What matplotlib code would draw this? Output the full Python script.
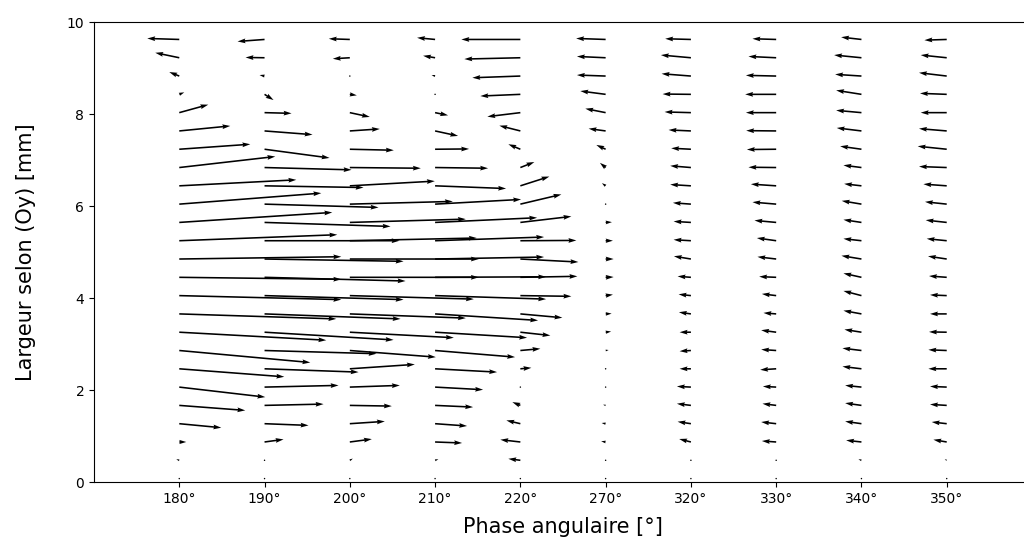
import numpy as np
import matplotlib
matplotlib.use("Agg")
import matplotlib.pyplot as plt

# Phase columns (x axis labels)
phases = ["180°", "190°", "200°", "210°", "220°", "270°", "320°", "330°", "340°", "350°"]

# Vertical positions of the measurement rows [mm]
y_rows = np.linspace(0.075, 9.63, 25)

# Vector components per phase, bottom row -> top row
u180 = [0, -0.3, 0.7, 4.2, 6.6, 8.6, 10.5, 13.1, 14.7, 15.7, 16.2, 16.2, 16.2, 15.8, 15.3, 14.2, 11.7, 9.6, 7.1, 5.1, 2.9, 0.5, -1.0, -2.4, -3.2]
v180 = [0, 0.1, 0, -0.4, -0.5, -1.0, -0.8, -1.2, -0.8, -0.5, -0.4, -0.2, 0.23, 0.6, 1.0, 1.1, 0.6, 1.1, 0.5, 0.5, 0.8, 0.2, 0.4, 0.5, 0.1]

u190 = [0, 0, 1.9, 4.4, 5.9, 7.4, 9.4, 11.2, 12.9, 13.6, 13.9, 14.1, 13.9, 13.5, 12.6, 11.4, 9.9, 8.7, 6.5, 4.8, 2.7, 0.9, -0.5, -1.9, -2.7]
v190 = [0, 0, 0.26, -0.17, 0.13, 0.17, -0.33, -0.32, -0.77, -0.5, -0.4, -0.37, -0.23, 0, -0.4, -0.33, -0.17, -0.23, -0.87, -0.37, -0.07, -0.57, 0.1, 0.03, -0.2]

u200 = [0, 0.3, 2.2, 3.5, 4.2, 5.0, 6.5, 8.6, 10.4, 11.6, 12.4, 12.9, 12.9, 12.7, 11.6, 10.3, 8.5, 7.1, 4.4, 3.0, 2.0, 0.7, -0.05, -1.7, -2.1]
v200 = [0, 0.17, 0.29, 0.23, -0.07, 0.17, 0.44, -0.66, -0.55, -0.42, -0.35, 0, 0, 0.27, 0.33, 0.27, 0.47, -0.07, -0.1, 0.2, -0.43, -0.1, 0, -0.1, 0.07]

u210 = [0, 0.33, 2.7, 3.2, 3.8, 4.8, 6.2, 8.0, 9.2, 10.3, 11.1, 11.1, 10.9, 10.9, 10.2, 8.6, 7.1, 5.3, 3.4, 2.3, 1.3, 0, -0.35, -1.2, -1.8]
v210 = [0, 0.1, -0.1, -0.23, -0.17, -0.26, -0.33, -0.66, -0.55, -0.65, -0.35, 0.05, 0.2, 0.37, 0.47, 0.47, -0.27, -0.07, 0.03, -0.5, -0.27, 0, 0.1, 0.2, 0.17]

u220 = [0, -1.2, -2.0, -1.4, -0.8, 0, 1.1, 2.0, 3.0, 4.2, 5.1, 5.7, 5.8, 5.6, 5.1, 4.1, 2.9, 1.4, -1.2, -2.1, -3.3, -4.0, -4.8, -5.6, -5.9]
v220 = [0, 0.15, 0.23, 0.33, 0.33, 0, 0.1, 0.18, -0.33, -0.38, -0.07, 0.1, -0.3, 0.03, 0.6, 0.97, 0.93, 0.55, 0.5, 0.53, -0.4, -0.17, -0.17, -0.13, 0]

u270 = [0, 0, -0.45, -0.4, -0.25, 0, 0, 0.3, 0.55, 0.6, 0.73, 0.8, 0.8, 0.73, 0.63, 0, -0.37, -0.57, -0.93, -1.7, -2.03, -2.53, -2.87, -2.87, -2.95]
v270 = [0, 0, 0.07, 0.07, 0.07, 0, 0, 0.05, 0.07, 0.03, 0.1, 0.03, 0, 0, 0.03, 0, 0.27, 0.47, 0.43, 0.23, 0.4, 0.33, 0.1, 0.13, 0.1]

u320 = [0, 0, -1.17, -1.33, -1.4, -1.4, -1.13, -1.13, -1.13, -1.2, -1.23, -1.33, -1.7, -1.73, -1.73, -1.8, -2.07, -2.07, -1.97, -2.23, -2.63, -2.83, -2.93, -3.0, -2.57]
v320 = [0, 0, 0.3, 0.2, 0.17, 0.07, 0, -0.07, 0, 0.17, 0.13, 0.1, 0.28, 0.1, 0.1, 0.13, 0.13, 0.17, 0.1, 0.1, 0.07, 0.03, 0.23, 0.27, 0.07]

u330 = [0, 0, -1.43, -1.5, -1.37, -1.33, -1.6, -1.5, -1.5, -1.27, -1.43, -1.7, -1.87, -1.93, -2.17, -2.37, -2.53, -2.77, -2.93, -3.0, -3.03, -3.1, -3.03, -2.77, -2.37]
v330 = [0, 0, 0.1, 0.17, 0.17, 0.07, -0.1, 0.1, 0.2, 0.1, 0.17, 0.07, 0.22, 0.27, 0.2, 0.2, 0.17, 0.03, -0.03, 0.03, 0, 0, 0.07, 0.13, 0.07]

u340 = [0, -0.3, -1.53, -1.63, -1.63, -1.63, -1.9, -1.9, -1.7, -1.8, -1.8, -1.8, -2.0, -1.8, -1.8, -1.97, -1.73, -1.8, -2.13, -2.47, -2.53, -2.53, -2.63, -2.73, -2.03]
v340 = [0, 0.1, 0.17, 0.23, 0.23, 0.17, 0.23, 0.23, 0.27, 0.33, 0.47, 0.4, 0.33, 0.2, 0.27, 0.33, 0.2, 0.23, 0.3, 0.3, 0.23, 0.4, 0.17, 0.27, 0.23]

u350 = [0, -0.2, -1.33, -1.5, -1.67, -1.67, -1.83, -1.83, -1.77, -1.67, -1.67, -1.77, -1.87, -2.0, -2.1, -2.17, -2.33, -2.77, -2.9, -2.77, -2.6, -2.67, -2.77, -2.6, -2.23]
v350 = [0, 0.1, 0.23, 0.17, 0.1, 0.07, 0, 0.07, 0.03, 0, 0.07, 0.13, 0.28, 0.2, 0.23, 0.23, 0.17, 0.1, 0.3, 0.23, 0, 0.1, 0.33, 0.27, -0.07]

U = np.column_stack([u180, u190, u200, u210, u220, u270, u320, u330, u340, u350])
V = np.column_stack([v180, v190, v200, v210, v220, v270, v320, v330, v340, v350])

x_pos = np.arange(len(phases))
X, Y = np.meshgrid(x_pos, y_rows)

fig = plt.figure(figsize=(10.24, 5.41), dpi=100)
ax = fig.add_axes([0.0918, 0.109, 0.916, 0.8495])

ax.quiver(X, Y, U, V, scale_units="inches", scale=10, width=0.0017, color="black")

ax.set_xlim(-1, 10)
ax.set_ylim(0, 10)
ax.set_xticks(x_pos)
ax.set_xticklabels(phases)
ax.set_xlabel("Phase angulaire [°]", fontsize=15, labelpad=8)
ax.set_ylabel("Largeur selon (Oy) [mm]", fontsize=15, labelpad=22)

fig.savefig("out.png", dpi=100)
